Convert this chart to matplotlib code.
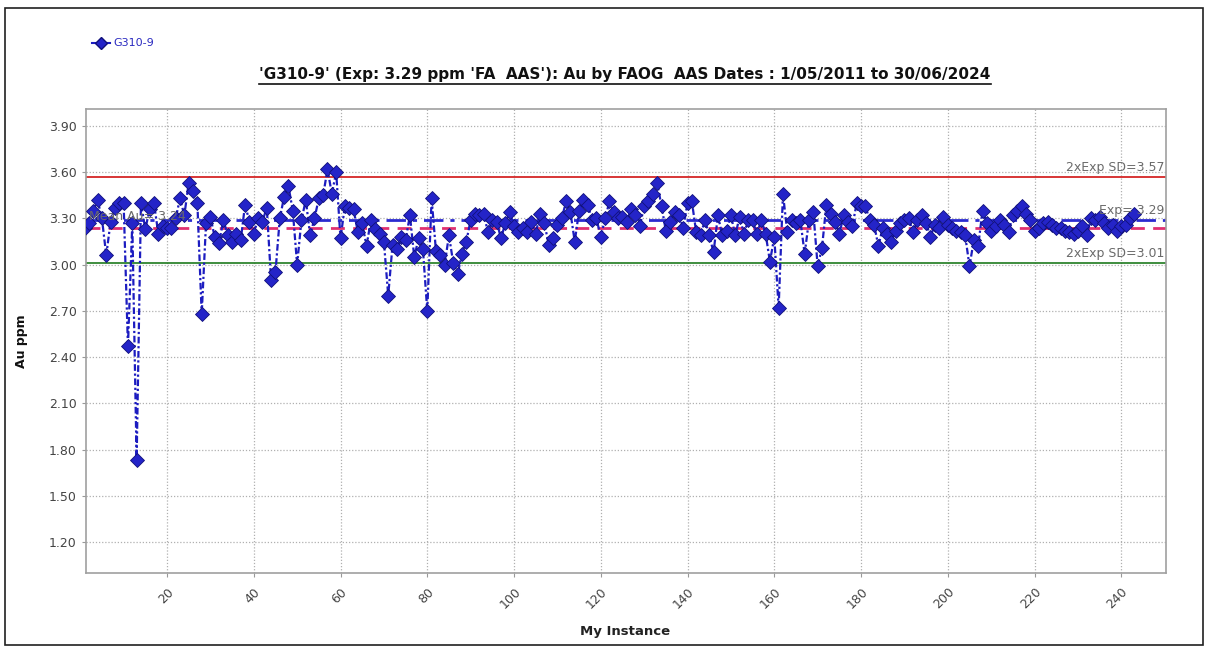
import numpy as np
import matplotlib
matplotlib.use("Agg")
import matplotlib.pyplot as plt
from matplotlib.lines import Line2D
from matplotlib.patches import Rectangle

# Au ppm readings for G310-9, in instance order
au_ppm = [
    3.24, 3.27, 3.35, 3.42, 3.30, 3.06, 3.28, 3.37, 3.40, 3.40,
    2.47, 3.27, 1.73, 3.40, 3.23, 3.36, 3.40, 3.20, 3.25, 3.24,
    3.24, 3.30, 3.43, 3.32, 3.53, 3.48, 3.40, 2.68, 3.27, 3.31,
    3.18, 3.14, 3.29, 3.19, 3.15, 3.20, 3.16, 3.39, 3.28, 3.20,
    3.30, 3.28, 3.37, 2.90, 2.95, 3.30, 3.44, 3.51, 3.35, 3.00,
    3.29, 3.42, 3.19, 3.30, 3.43, 3.45, 3.62, 3.46, 3.60, 3.17,
    3.38, 3.37, 3.36, 3.21, 3.27, 3.12, 3.29, 3.23, 3.20, 3.15,
    2.80, 3.13, 3.10, 3.18, 3.16, 3.32, 3.05, 3.17, 3.10, 2.70,
    3.43, 3.09, 3.06, 3.00, 3.19, 3.01, 2.94, 3.07, 3.15, 3.29,
    3.33, 3.32, 3.33, 3.21, 3.29, 3.28, 3.17, 3.27, 3.34, 3.25,
    3.21, 3.24, 3.21, 3.28, 3.20, 3.33, 3.27, 3.13, 3.17, 3.26,
    3.30, 3.41, 3.34, 3.15, 3.35, 3.42, 3.39, 3.29, 3.30, 3.18,
    3.30, 3.41, 3.34, 3.30, 3.31, 3.28, 3.36, 3.32, 3.25, 3.38,
    3.41, 3.46, 3.53, 3.38, 3.22, 3.28, 3.34, 3.32, 3.24, 3.40,
    3.41, 3.21, 3.19, 3.29, 3.19, 3.08, 3.32, 3.19, 3.22, 3.32,
    3.19, 3.31, 3.20, 3.29, 3.29, 3.20, 3.29, 3.20, 3.02, 3.18,
    2.72, 3.46, 3.21, 3.29, 3.27, 3.29, 3.07, 3.29, 3.34, 2.99,
    3.11, 3.39, 3.33, 3.28, 3.20, 3.32, 3.28, 3.25, 3.40, 3.38,
    3.38, 3.29, 3.26, 3.12, 3.24, 3.20, 3.15, 3.22, 3.27, 3.29,
    3.30, 3.21, 3.29, 3.32, 3.27, 3.18, 3.26, 3.24, 3.31, 3.26,
    3.24, 3.22, 3.21, 3.19, 2.99, 3.16, 3.12, 3.35, 3.27, 3.22,
    3.25, 3.29, 3.26, 3.21, 3.32, 3.35, 3.38, 3.33, 3.29, 3.22,
    3.24, 3.27, 3.28, 3.26, 3.24, 3.24, 3.22, 3.21, 3.20, 3.22,
    3.25, 3.19, 3.30, 3.29, 3.31, 3.27, 3.24, 3.26, 3.22, 3.25,
    3.26, 3.30, 3.33,
]
instances = np.arange(1, len(au_ppm) + 1)

exp_value = 3.29
sd_high = 3.57
sd_low = 3.01
mean_value = 3.24

x_ticks = list(range(20, 241, 20))
y_ticks = [1.20, 1.50, 1.80, 2.10, 2.40, 2.70, 3.00, 3.30, 3.60, 3.90]

title = "'G310-9' (Exp: 3.29 ppm 'FA  AAS'): Au by FAOG  AAS Dates : 1/05/2011 to 30/06/2024"

plt.rcParams['font.family'] = ['DejaVu Sans']

W, H = 1208, 648
fig = plt.figure(figsize=(W / 100, H / 100), dpi=100)
fig.patch.set_facecolor('white')

# outer frame of the picture
fig.patches.append(Rectangle((5 / W, 3 / H), 1198 / W, 637 / H, transform=fig.transFigure,
                             fill=False, edgecolor='#202020', linewidth=1.2))

ax = fig.add_axes([85.7 / W, 1 - 573 / H, (1166 - 85.7) / W, (573 - 109) / H])

ax.axhline(sd_high, color='#d42525', linewidth=1.3, zorder=2)
ax.axhline(sd_low, color='#1e7a1e', linewidth=1.2, zorder=2)
ax.axhline(exp_value, color='#2a2ad0', linewidth=2.0, linestyle=(0, (7, 2.5, 1.5, 2.5)), zorder=2)
ax.axhline(mean_value, color='#e03070', linewidth=2.0, linestyle=(0, (5, 3)), zorder=2)

ax.plot(instances, au_ppm, color='#1c1cc0', linewidth=1.6,
        linestyle=(0, (3, 1.2, 1, 1.2)), marker='D', markersize=7,
        markerfacecolor='#2424c8', markeredgecolor='#10107a', markeredgewidth=0.6, zorder=3)

label_kw = dict(color='#6a6a6a', fontsize=9, ha='right', va='bottom', zorder=4)
ax.text(250.0, sd_high + 0.02, '2xExp SD=3.57', **label_kw)
ax.text(250.0, exp_value + 0.02, 'Exp= 3.29', **label_kw)
ax.text(250.0, sd_low + 0.02, '2xExp SD=3.01', **label_kw)
ax.text(2.0, mean_value + 0.03, 'Mean Au= 3.24', color='#6a6a6a', fontsize=9,
        ha='left', va='bottom', zorder=4)

ax.set_xlim(1.26, 250.3)
ax.set_ylim(1.0, 4.01)
ax.set_xticks(x_ticks)
ax.set_yticks(y_ticks)
ax.set_yticklabels([f'{v:.2f}' for v in y_ticks])
ax.tick_params(axis='both', labelsize=9, labelcolor='#444444', color='#999999', length=3)
ax.tick_params(axis='x', pad=6)
plt.setp(ax.get_xticklabels(), rotation=45, ha='right', rotation_mode='anchor')
ax.grid(True, color='#b0b0b0', linestyle=(0, (1, 1.5)), linewidth=0.9)
ax.set_axisbelow(True)
for s in ax.spines.values():
    s.set_color('#a0a0a0')
    s.set_linewidth(1.2)

# axis titles at fixed spots
fig.text(22 / W, 1 - 341 / H, 'Au ppm', fontsize=9, fontweight='bold', color='#111111',
         rotation=90, ha='center', va='center')
fig.text(625 / W, 1 - 632 / H, 'My Instance', fontsize=9.5, fontweight='bold', color='#222222',
         ha='center', va='center')

# legend: marker + series name
fig.lines.append(Line2D([92 / W, 101 / W, 110 / W], [1 - 43 / H] * 3, transform=fig.transFigure,
                        color='#1c1cc0', linewidth=1.5, marker='D', markersize=6,
                        markevery=[1], markerfacecolor='#2424c8', markeredgecolor='#10107a'))
fig.text(113 / W, 1 - 43 / H, 'G310-9', fontsize=8, color='#2a2ac0', va='center', ha='left')

t = fig.text(625 / W, 1 - 75 / H, title, fontsize=11, fontweight='bold', color='#111111',
             ha='center', va='center')

fig.canvas.draw()
bb = t.get_window_extent()
fig.lines.append(Line2D([bb.x0 / W, bb.x1 / W], [(bb.y0 - 1) / H, (bb.y0 - 1) / H],
                        transform=fig.transFigure, color='#111111', linewidth=1.2))

fig.savefig('out.png', dpi=100)
